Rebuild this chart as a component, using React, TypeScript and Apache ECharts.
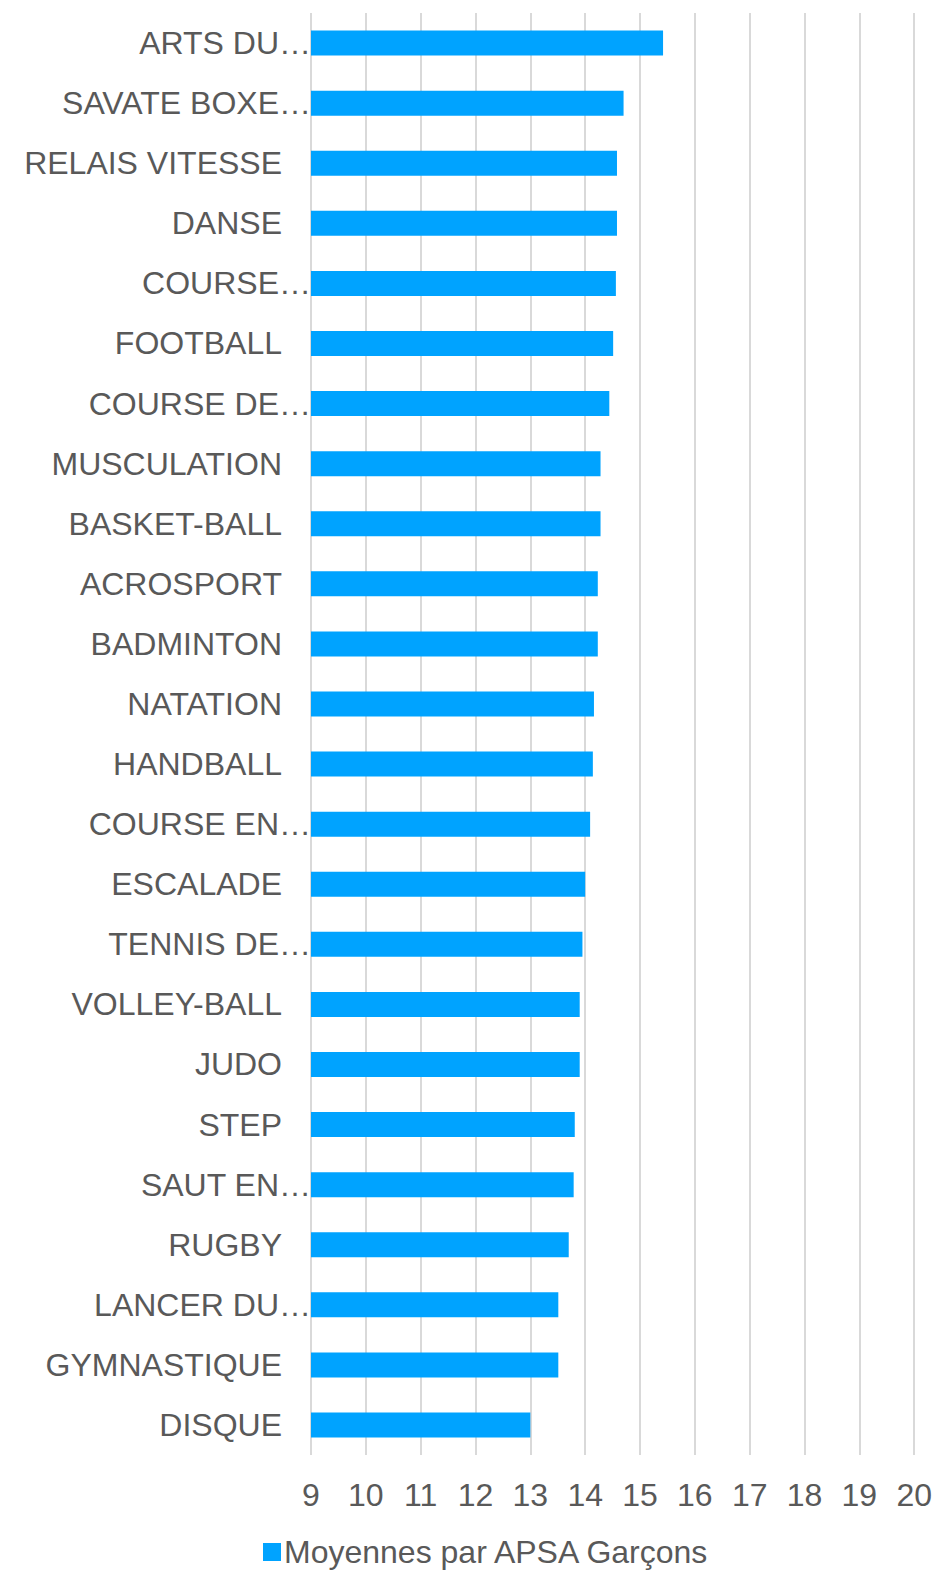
import React, { useEffect, useRef } from "react";
import * as echarts from "echarts";

const categories = [
  "ARTS DU…",
  "SAVATE BOXE…",
  "RELAIS VITESSE",
  "DANSE",
  "COURSE…",
  "FOOTBALL",
  "COURSE DE…",
  "MUSCULATION",
  "BASKET-BALL",
  "ACROSPORT",
  "BADMINTON",
  "NATATION",
  "HANDBALL",
  "COURSE EN…",
  "ESCALADE",
  "TENNIS DE…",
  "VOLLEY-BALL",
  "JUDO",
  "STEP",
  "SAUT EN…",
  "RUGBY",
  "LANCER DU…",
  "GYMNASTIQUE",
  "DISQUE",
];

const values = [
  15.42, 14.7, 14.58, 14.58, 14.56, 14.51, 14.44, 14.28, 14.28, 14.23, 14.23,
  14.16, 14.14, 14.09, 14.0, 13.95, 13.9, 13.9, 13.81, 13.79, 13.7, 13.51,
  13.51, 13.0,
];

const seriesName = "Moyennes par APSA Garçons";
const axisMin = 9;
const axisMax = 20;

export default function App() {
  const ref = useRef<HTMLDivElement>(null);

  useEffect(() => {
    if (!ref.current) return;
    const chart = echarts.init(ref.current, null, { renderer: "svg" });
    const font = "'Liberation Sans', Arial, sans-serif";
    const textColor = "#595959";
    chart.setOption({
      animation: false,
      backgroundColor: "#ffffff",
      textStyle: { fontFamily: font },
      grid: { left: 311, right: 20, top: 13, bottom: 115, containLabel: false },
      legend: {
        data: [seriesName],
        left: 258,
        top: 1531,
        icon: "rect",
        itemWidth: 18,
        itemHeight: 18,
        itemGap: 10,
        textStyle: { fontSize: 32, color: textColor, fontFamily: font, padding: [0, 0, 0, -2] },
      },
      xAxis: {
        type: "value",
        min: axisMin,
        max: axisMax,
        interval: 1,
        axisLine: { show: false },
        axisTick: { show: false },
        splitLine: { show: true, lineStyle: { color: "#d9d9d9", width: 2 } },
        axisLabel: { color: textColor, fontSize: 32, margin: 24, fontFamily: font },
      },
      yAxis: {
        type: "category",
        data: categories,
        inverse: true,
        axisLine: { show: false },
        axisTick: { show: false },
        axisLabel: {
          color: textColor,
          fontSize: 32,
          margin: 0,
          fontFamily: font,
          formatter: (v: string) => (v.endsWith("…") ? v : v + "{s| }"),
          rich: {
            s: { width: 29, fontSize: 32 },
          },
        },
      },
      series: [
        {
          name: seriesName,
          type: "bar",
          data: values,
          barWidth: 25,
          itemStyle: { color: "#00a3ff" },
        },
      ],
    });
    return () => chart.dispose();
  }, []);

  return (
    <div
      ref={ref}
      style={{ position: "absolute", left: 0, top: 0, width: 935, height: 1570 }}
    />
  );
}
